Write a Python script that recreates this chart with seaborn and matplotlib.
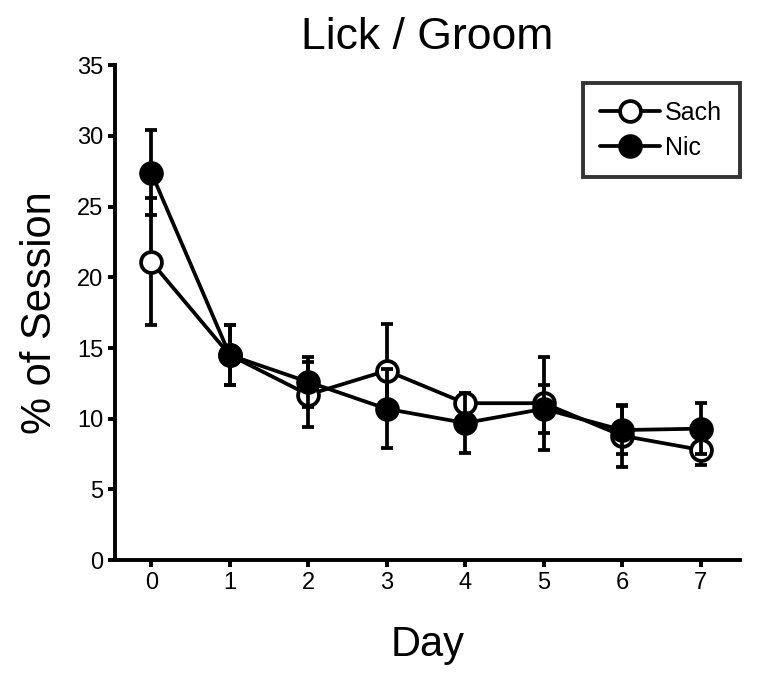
import matplotlib
matplotlib.use('Agg')
import matplotlib.pyplot as plt
import seaborn as sns
import pandas as pd

sns.set_style('ticks')
plt.rcParams['font.family'] = ['Liberation Sans', 'DejaVu Sans']
plt.rcParams['text.color'] = 'black'
plt.rcParams['axes.labelcolor'] = 'black'

# Values (mean +/- error)
days = [0, 1, 2, 3, 4, 5, 6, 7]
sach_mean = [21.1, 14.5, 11.7, 13.4, 11.1, 11.1, 8.8, 7.8]
sach_err = [4.5, 2.1, 2.3, 3.3, 0.4, 3.3, 2.2, 1.05]
nic_mean = [27.4, 14.5, 12.6, 10.7, 9.7, 10.7, 9.2, 9.3]
nic_err = [3.0, 2.1, 1.8, 2.8, 2.1, 1.7, 1.7, 1.8]

df = pd.DataFrame({
    'Day': days * 2,
    'pct': sach_mean + nic_mean,
    'err': sach_err + nic_err,
    'group': ['Sach'] * len(days) + ['Nic'] * len(days),
})

fig = plt.figure(figsize=(7.58, 6.79), dpi=100)
ax = fig.add_axes([0.152, 0.175, 0.824, 0.729])

lw = 2.7
faces = {'Sach': 'white', 'Nic': 'black'}
for i, (name, sub) in enumerate(df.groupby('group', sort=False)):
    ax.errorbar(sub['Day'], sub['pct'], yerr=sub['err'], fmt='none',
                ecolor='black', elinewidth=lw, capsize=4.5, capthick=lw,
                zorder=2 + 2 * i)
    sns.lineplot(data=sub, x='Day', y='pct', ax=ax, color='black',
                 linewidth=lw, marker='o', markersize=15,
                 markerfacecolor=faces[name], markeredgecolor='black',
                 markeredgewidth=lw, label=name, zorder=3 + 2 * i)

ax.set_xlim(-0.46, 7.5)
ax.set_ylim(0, 35)
ax.set_xticks(days)
ax.set_yticks(range(0, 36, 5))
ax.tick_params(axis='both', labelsize=17, width=2.8, length=5,
               direction='out', colors='black')
for s in ['left', 'bottom']:
    ax.spines[s].set_linewidth(2.8)
    ax.spines[s].set_color('black')
sns.despine(ax=ax)

ax.set_title('Lick / Groom', fontsize=32, pad=12)
ax.set_xlabel('Day', fontsize=30, labelpad=22)
ax.set_ylabel('% of Session', fontsize=30, labelpad=12)

leg = ax.legend(loc='upper right', bbox_to_anchor=(1.0, 0.964),
                borderaxespad=0, fancybox=False, fontsize=18,
                handlelength=2.4, labelspacing=0.45, borderpad=0.7,
                handletextpad=0.2)
leg.get_frame().set_edgecolor('black')
leg.get_frame().set_linewidth(2.8)
for t in leg.get_texts():
    t.set_color('black')

fig.savefig('out.png', dpi=100)
